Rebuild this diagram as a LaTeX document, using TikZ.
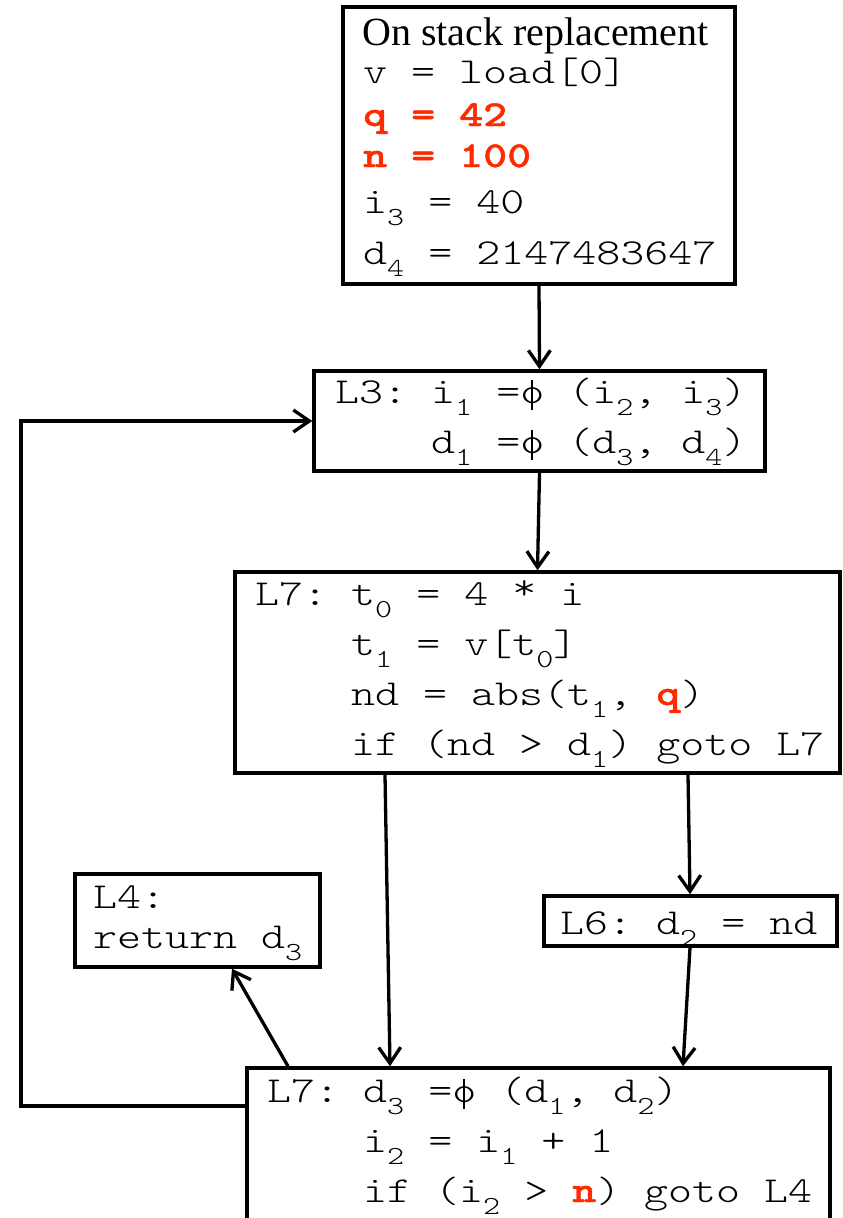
\documentclass[tikz,border=0pt]{standalone}
\usepackage{fontspec}
\setmainfont{Liberation Serif}
\newfontfamily\cour[FakeStretch=1.25]{lmmonolt10-regular.otf}
\newfontfamily\courbold[FakeStretch=1.25,FakeBold=1.2]{lmmonolt10-bold.otf}
\usetikzlibrary{arrows.meta}
\definecolor{osr}{RGB}{255,42,0}
\newcommand\sbs[1]{\raisebox{-12pt}{\fontsize{26}{26}\selectfont #1}}
\newcommand\hot[1]{\textcolor{osr}{\courbold #1}}
\newcommand\phig{\rlap{o}\makebox[24pt]{\rule[-7pt]{1.8pt}{30pt}}}
\newcommand\upstar{\raisebox{6pt}{*}}
\frenchspacing
\begin{document}
\begin{tikzpicture}[x=1pt,y=-1pt,
  box/.style={draw, rectangle, inner sep=0pt, line width=3.5pt},
  code/.style={anchor=base west, inner sep=0pt, font=\fontsize{36.57}{40}\selectfont\cour},
  flow/.style={-{Straight Barb[length=16pt,width=22pt]}, line width=3.3pt}]
\useasboundingbox (0,0) rectangle (843,1218);
\clip (0,0) rectangle (843,1218);
% top box
\node[box, minimum width=392pt, minimum height=277pt] (top) at (539,145.5) {};
\node[code, font=\fontsize{40}{40}\selectfont\rmfamily] (title) at (362,45) {On stack replacement};
\node[code] (v) at (363,83) {v = load[0]};
\node[code] (q) at (363,126) {\hot{q = 42}};
\node[code] (n) at (363,167) {\hot{n = 100}};
\node[code] (i3) at (363,213) {i\sbs{3} = 40};
\node[code] (d4) at (363,264) {d\sbs{4} = 2147483647};
% L3
\node[box, minimum width=451pt, minimum height=100pt] (l3) at (539.5,421) {};
\node[code] (l3a) at (335,403) {L3: i\sbs{1} =\phig{} (i\sbs{2}, i\sbs{3})};
\node[code] (l3b) at (431,453) {d\sbs{1} =\phig{} (d\sbs{3}, d\sbs{4})};
% L7 (first)
\node[box, minimum width=605pt, minimum height=201pt] (l7a) at (537.5,672.5) {};
\node[code] (l7a1) at (255,605) {L7: t\sbs{0} = 4 \upstar{} i};
\node[code] (l7a2) at (351,655) {t\sbs{1} = v[t\sbs{0}]};
\node[code] (l7a3) at (351,705) {nd = abs(t\sbs{1}, \hot{q})};
\node[code] (l7a4) at (351,755) {if (nd > d\sbs{1}) goto L7};
% L6
\node[box, minimum width=293pt, minimum height=50pt] (l6) at (690.5,921) {};
\node[code] (l6t) at (560,934) {L6: d\sbs{2} = nd};
% L4
\node[box, minimum width=245pt, minimum height=93pt] (l4) at (197.5,920.5) {};
\node[code] (l4a) at (93,908) {L4:};
\node[code] (l4b) at (93,948) {return d\sbs{3}};
% L7 (second)
\node[box, minimum width=583pt, minimum height=172pt] (l7b) at (538.5,1154) {};
\node[code] (l7b1) at (267,1102) {L7: d\sbs{3} =\phig{} (d\sbs{1}, d\sbs{2})};
\node[code] (l7b2) at (363,1152) {i\sbs{2} = i\sbs{1} + 1};
\node[code] (l7b3) at (363,1202) {if (i\sbs{2} > \hot{n}) goto L4};
% connectors
\draw[flow] (top.south) -- (l3.north);
\draw[flow] (l3.south) -- (l7a.north);
\draw[flow] (l7a.south -| 385,0) -- (l7b.north -| 390,0);
\draw[flow] (l7a.south -| 688,0) -- (l6.north -| 690,0);
\draw[flow] (l6.south -| 690,0) -- (l7b.north -| 683,0);
\draw[flow] (l7b.north -| 288,0) -- (l4.south -| 232,0);
\draw[flow] (l7b.west |- 0,1106) -- (21,1106) |- (l3.west);
\end{tikzpicture}
\end{document}
